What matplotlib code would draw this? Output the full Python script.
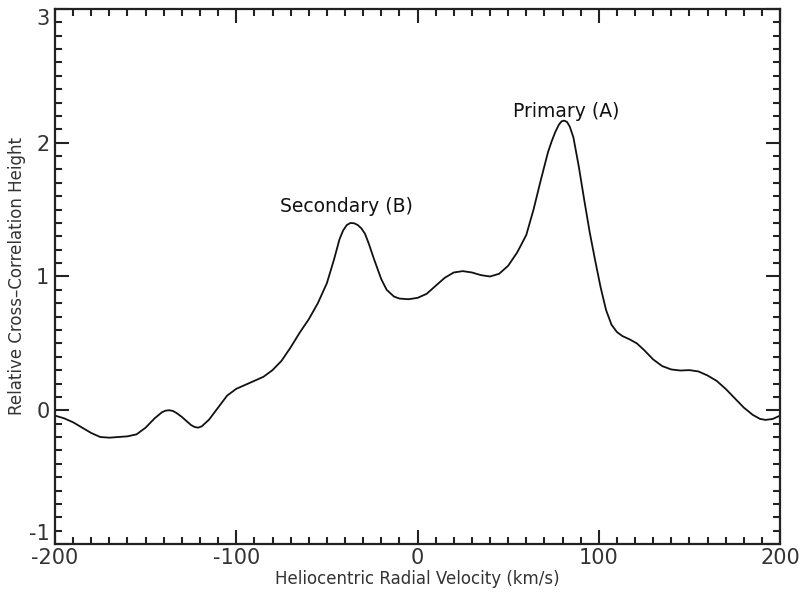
import matplotlib
matplotlib.use("Agg")
import matplotlib.pyplot as plt
from matplotlib.ticker import MultipleLocator

# Cross-correlation function vs. heliocentric radial velocity
velocity = [
    -200, -195, -190, -185, -180, -175, -170, -165, -160, -155,
    -150, -145, -141, -139, -137, -135, -133, -130, -125, -123,
    -121, -119, -115, -110, -105, -100, -95, -90, -85, -80,
    -75, -70, -65, -60, -55, -50, -46, -43, -41, -39,
    -37, -35, -33, -31, -29, -27, -24, -20, -17, -13,
    -10, -5, 0, 5, 10, 15, 20, 25, 30, 35,
    40, 45, 50, 55, 60, 64, 68, 72, 74, 76,
    78, 79.5, 81, 82.5, 84, 86, 89, 92, 95, 98,
    101, 104, 107, 110, 113, 117, 121, 125, 130, 135,
    140, 145, 150, 155, 160, 165, 170, 175, 180, 185,
    189, 192, 196, 200,
]
ccf_height = [
    -0.04, -0.06, -0.09, -0.13, -0.17, -0.20, -0.205, -0.20, -0.195, -0.18,
    -0.13, -0.06, -0.015, -0.003, 0.00, -0.005, -0.02, -0.05, -0.11, -0.125,
    -0.13, -0.12, -0.07, 0.02, 0.11, 0.16, 0.19, 0.22, 0.25, 0.30,
    0.37, 0.47, 0.58, 0.68, 0.80, 0.95, 1.13, 1.28, 1.345, 1.385,
    1.40, 1.398, 1.385, 1.36, 1.32, 1.25, 1.13, 0.98, 0.90, 0.85,
    0.835, 0.83, 0.84, 0.87, 0.93, 0.99, 1.03, 1.04, 1.03, 1.01,
    1.00, 1.02, 1.08, 1.18, 1.31, 1.50, 1.72, 1.93, 2.01, 2.08,
    2.135, 2.16, 2.165, 2.155, 2.12, 2.04, 1.82, 1.57, 1.33, 1.12,
    0.92, 0.75, 0.64, 0.585, 0.555, 0.53, 0.50, 0.45, 0.38, 0.33,
    0.305, 0.297, 0.30, 0.29, 0.26, 0.22, 0.16, 0.09, 0.02, -0.035,
    -0.065, -0.072, -0.065, -0.04,
]

x_ticks = [-200, -100, 0, 100, 200]
x_tick_labels = ["-200", "-100", "0", "100", "200"]
y_ticks = [-1, 0, 1, 2, 3]
y_tick_labels = ["-1", "0", "1", "2", "3"]

peak_labels = ["Secondary (B)", "Primary (A)"]
peak_label_pos = [(-39, 1.52), (82, 2.23)]

tick_color = "#333333"

fig = plt.figure(figsize=(8.05, 5.96), dpi=100)
ax = fig.add_axes([0.0683, 0.0872, 0.9007, 0.8978])

ax.plot(velocity, ccf_height, color="#111111", lw=1.3)

ax.set_xlim(-200, 200)
ax.set_ylim(-1, 3)
ax.set_xticks(x_ticks)
ax.set_xticklabels(x_tick_labels)
ax.set_yticks(y_ticks)
ax.set_yticklabels(y_tick_labels)
ax.xaxis.set_minor_locator(MultipleLocator(10))
ax.yaxis.set_minor_locator(MultipleLocator(0.1))

ax.tick_params(which="both", direction="in", top=True, right=True,
               color="#222222", width=1.5)
ax.tick_params(which="major", length=10)
ax.tick_params(which="minor", length=5)
ax.tick_params(axis="x", which="major", labelsize=15, labelcolor=tick_color, pad=3)
ax.tick_params(axis="y", which="major", labelsize=15, labelcolor=tick_color, pad=4)

# keep the end labels of the y axis inside the frame height
ylabels = ax.get_yticklabels()
ylabels[0].set_verticalalignment("bottom")
ylabels[-1].set_verticalalignment("top")

for spine in ax.spines.values():
    spine.set_linewidth(1.6)
    spine.set_color("#222222")

ax.set_xlabel("Heliocentric Radial Velocity (km/s)", fontsize=12,
              color=tick_color, labelpad=1)
ax.set_ylabel("Relative Cross\u2013Correlation Height", fontsize=12,
              color=tick_color, labelpad=2)

for text, (tx, ty) in zip(peak_labels, peak_label_pos):
    ax.text(tx, ty, text, fontsize=13.5, color="#111111",
            ha="center", va="center")

fig.savefig("out.png", dpi=100)
